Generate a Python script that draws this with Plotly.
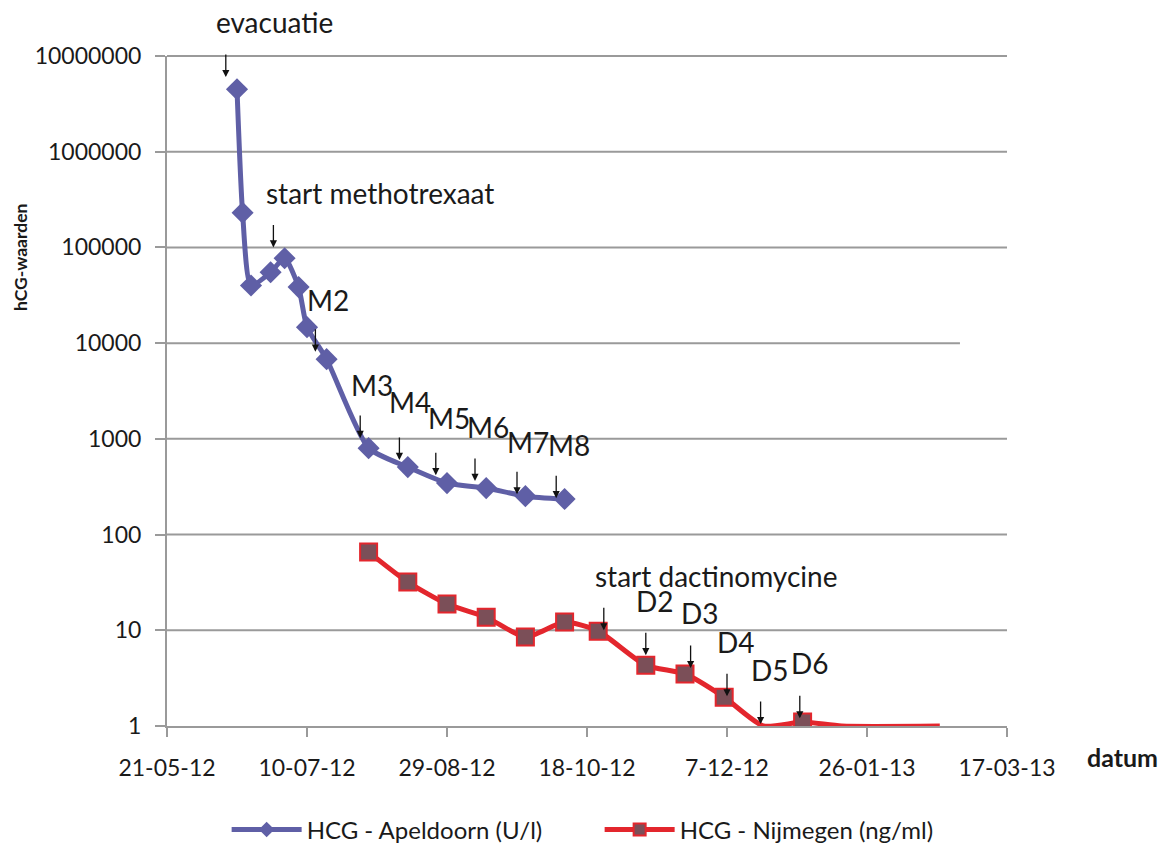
import plotly.graph_objects as go
import math

# ---- data ----
apeldoorn_dates = ["2012-06-15", "2012-06-17", "2012-06-20", "2012-06-27", "2012-07-02",
                   "2012-07-07", "2012-07-10", "2012-07-17", "2012-08-01", "2012-08-15",
                   "2012-08-29", "2012-09-12", "2012-09-26", "2012-10-10"]
apeldoorn_values = [4500000, 230000, 40000, 55000, 77000, 38500, 14700, 6800,
                    800, 507, 345, 306, 252, 235]

nijmegen_dates = ["2012-08-01", "2012-08-15", "2012-08-29", "2012-09-12", "2012-09-26",
                  "2012-10-10", "2012-10-22", "2012-11-08", "2012-11-22", "2012-12-06",
                  "2012-12-20", "2013-01-03", "2013-01-17", "2013-02-21"]
nijmegen_values = [65.6, 31.9, 18.8, 13.7, 8.5, 12.2, 9.8, 4.3, 3.5, 2.0, 1.0, 1.1, 1.0, 1.0]
nijmegen_has_marker = [1, 1, 1, 1, 1, 1, 1, 1, 1, 1, 0, 1, 0, 0]

x_tick_dates = ["2012-05-21", "2012-07-10", "2012-08-29", "2012-10-18",
                "2012-12-07", "2013-01-26", "2013-03-17"]
x_tick_labels = ["21-05-12", "10-07-12", "29-08-12", "18-10-12",
                 "7-12-12", "26-01-13", "17-03-13"]
y_tick_values = [1, 10, 100, 1000, 10000, 100000, 1000000, 10000000]
y_tick_labels = ["1", "10", "100", "1000", "10000", "100000", "1000000", "10000000"]

# event arrows: label, arrow-tip date, arrow-tip value (log10)
event_labels = ["evacuatie", "start methotrexaat", "M2", "M3", "M4", "M5", "M6", "M7", "M8",
                "start dactinomycine", "D2", "D3", "D4", "D5", "D6"]
event_tip_dates = ["2012-06-11", "2012-06-28", "2012-07-13", "2012-07-29", "2012-08-12",
                   "2012-08-25", "2012-09-08", "2012-09-23", "2012-10-07",
                   "2012-10-24", "2012-11-08", "2012-11-24", "2012-12-07", "2012-12-19", "2013-01-02"]
event_tip_log = [6.78, 5.00, 3.91, 3.01, 2.78, 2.62, 2.56, 2.42, 2.38,
                 1.00, 0.74, 0.605, 0.31, 0.02, 0.08]
# label offsets from the arrow tip (pixels, right / up)
event_text_dx = [49, 107, 13, 12, 11, 13, 13, 11, 13, 112, 9, 9, 9, 9, 10]
event_text_dy = [55, 54, 52, 53, 58, 57, 54, 52, 53, 54, 54, 55, 54, 54, 55]

FONT = "Lato"
BLUE = "#5f5fa6"
RED = "#e3262d"
SQ_FILL = "#7b4f58"
GRID = "#9a9a9a"
TXT = "#1a1a1a"

fig = go.Figure()
fig.add_trace(go.Scatter(
    x=apeldoorn_dates, y=apeldoorn_values, name="HCG - Apeldoorn (U/l)",
    mode="lines+markers", line=dict(color=BLUE, width=5, shape="spline", smoothing=0.6),
    marker=dict(symbol="diamond", size=17, color=BLUE, opacity=1, line=dict(width=0)),
))
fig.add_trace(go.Scatter(
    x=nijmegen_dates, y=nijmegen_values, name="HCG - Nijmegen (ng/ml)",
    mode="lines+markers", line=dict(color=RED, width=5, shape="spline", smoothing=0.6),
    marker=dict(symbol="square", size=[17 * m for m in nijmegen_has_marker], color=SQ_FILL,
                opacity=1, line=dict(color=RED, width=2)),
))

# gridlines (10000 line is shorter in the original)
for v in y_tick_values[1:]:
    frac = math.log10(v) / 7
    x1 = 0.944 if v == 10000 else 1.0
    fig.add_shape(type="line", xref="paper", yref="y domain", x0=0, x1=x1, y0=frac, y1=frac,
                  line=dict(color=GRID, width=2), layer="below")

for lab, td, tl, dx, dy in zip(event_labels, event_tip_dates, event_tip_log,
                               event_text_dx, event_text_dy):
    fig.add_annotation(x=td, y=tl, xref="x", yref="y", text="", showarrow=True,
                       ax=0, ay=-24, arrowhead=2, arrowsize=1.1, arrowwidth=1.3,
                       arrowcolor="#111111")
    fig.add_annotation(x=td, y=tl, xref="x", yref="y", text=lab, showarrow=False,
                       xshift=dx, yshift=dy, borderpad=0,
                       font=dict(family=FONT, size=28, color=TXT))

fig.add_annotation(x=1.137, y=-0.046, xref="paper", yref="paper", text="<b>datum</b>",
                   xanchor="center", yanchor="middle",
                   showarrow=False, font=dict(family=FONT, size=25, color=TXT))
fig.add_annotation(x=-0.175, y=0.6985, xref="paper", yref="paper", text="<b>hCG-waarden</b>",
                   xanchor="center", yanchor="middle",
                   textangle=-90, showarrow=False, font=dict(family=FONT, size=17.5, color=TXT))

# the page body adds an 8px offset, so the figure is slightly smaller than the window
fig.update_layout(
    width=1155, height=838,
    margin=dict(l=159, r=156, t=48, b=120, autoexpand=False),
    paper_bgcolor="white", plot_bgcolor="white",
    font=dict(family=FONT, size=22, color=TXT),
    showlegend=True,
    legend=dict(orientation="h", x=0.071, xanchor="left", y=-0.155, yanchor="middle",
                font=dict(family=FONT, size=24, color=TXT), itemsizing="constant",
                itemwidth=70, entrywidth=288, entrywidthmode="pixels", tracegroupgap=0),
    xaxis=dict(type="date", range=["2012-05-21", "2013-03-17"],
               tickvals=x_tick_dates, ticktext=x_tick_labels, automargin=False,
               showgrid=False, showline=True, linecolor=GRID, linewidth=2,
               ticks="outside", ticklen=9, tickwidth=2, tickcolor=GRID, ticklabelstandoff=11,
               tickfont=dict(family=FONT, size=23, color=TXT), zeroline=False),
    yaxis=dict(type="log", range=[0, 7], tickvals=y_tick_values, ticktext=y_tick_labels,
               automargin=False,
               showgrid=False, showline=True, linecolor=GRID, linewidth=2,
               ticks="outside", ticklen=10, tickwidth=2, tickcolor=GRID, ticklabelstandoff=9,
               tickfont=dict(family=FONT, size=23, color=TXT), zeroline=False),
)

fig.write_html("out.html")
